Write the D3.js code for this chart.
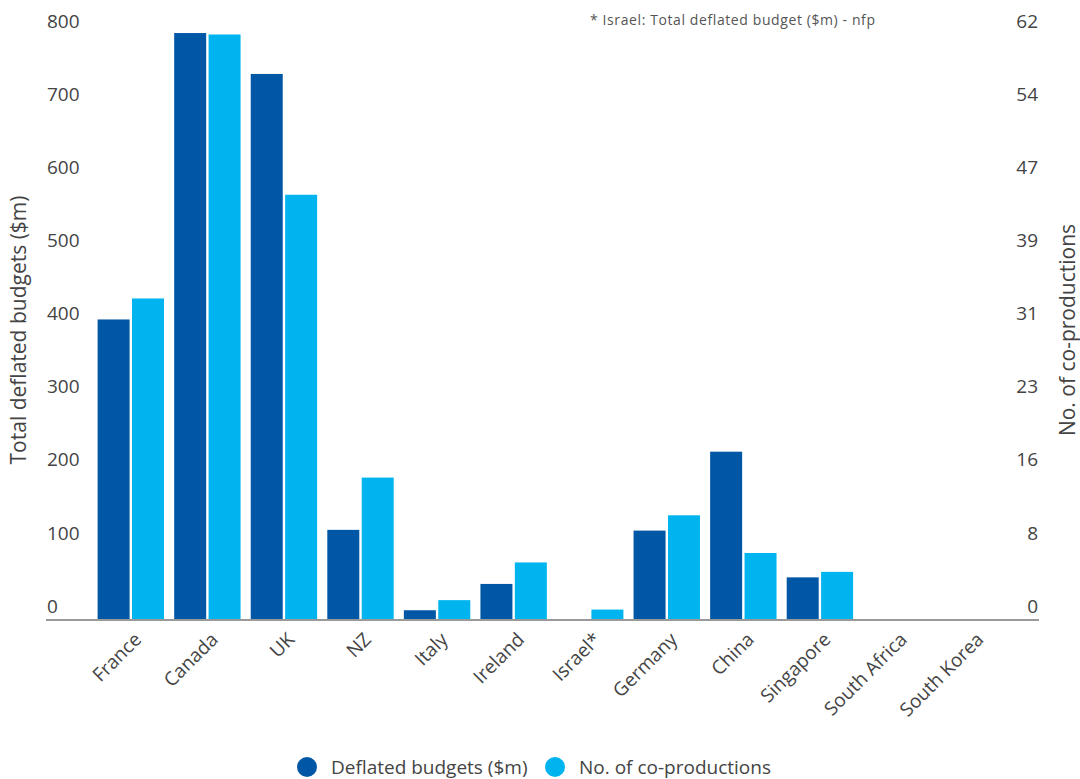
<!DOCTYPE html>
<html>
<head>
<meta charset="utf-8">
<script src="https://cdn.jsdelivr.net/npm/d3@7"></script>
<style>
  body { margin: 0; background: #fff; }
  svg, svg text { font-family: "Open Sans", sans-serif; }
  .tick text { fill: #444; }
</style>
</head>
<body>
<svg id="chart" width="1080" height="779"></svg>
<script>

// data
var countries = ["France", "Canada", "UK", "NZ", "Italy", "Ireland", "Israel*", "Germany", "China", "Singapore", "South Africa", "South Korea"];
var budgets = [410, 802, 746, 122, 12, 48, null, 121, 229, 57, 0, 0];   // $m, Israel not for publication
var coprods = [34, 62, 45, 15, 2, 6, 1, 11, 7, 5, 0, 0];

var leftTicks = [0, 100, 200, 300, 400, 500, 600, 700, 800];
var rightTicks = [0, 7.75, 15.5, 23.25, 31, 38.75, 46.5, 54.25, 62];
var rightTickLabels = ["0", "8", "16", "23", "31", "39", "47", "54", "62"];

var seriesNames = ["Deflated budgets ($m)", "No. of co-productions"];
var colors = ["#0057a6", "#00b5ef"];

var svg = d3.select("#chart");

var baseY = 619, topY = 34.5;

var x0 = d3.scaleBand()
  .domain(countries)
  .range([92.6, 1011.4]);

var x1 = d3.scaleBand()
  .domain([0, 1])
  .range([5, 71.4])
  .paddingInner(0.07);

var yL = d3.scaleLinear().domain([0, 800]).range([baseY, topY]);
var yR = d3.scaleLinear().domain([0, 62]).range([baseY, topY]);

// bars
var groups = svg.append("g").selectAll("g")
  .data(countries)
  .enter().append("g")
  .attr("transform", function(d) { return "translate(" + x0(d) + ",0)"; });

groups.append("rect")
  .filter(function(d, i) { return budgets[i] != null && budgets[i] > 0; })
  .attr("x", x1(0))
  .attr("width", x1.bandwidth())
  .attr("y", function(d) { return yL(budgets[countries.indexOf(d)]); })
  .attr("height", function(d) { return baseY - yL(budgets[countries.indexOf(d)]); })
  .attr("fill", colors[0]);

groups.append("rect")
  .filter(function(d, i) { return coprods[i] > 0; })
  .attr("x", x1(1))
  .attr("width", x1.bandwidth())
  .attr("y", function(d) { return yR(coprods[countries.indexOf(d)]); })
  .attr("height", function(d) { return baseY - yR(coprods[countries.indexOf(d)]); })
  .attr("fill", colors[1]);

// baseline
svg.append("line")
  .attr("x1", 46).attr("x2", 1039)
  .attr("y1", baseY + 1).attr("y2", baseY + 1)
  .attr("stroke", "#999")
  .attr("stroke-width", 2);

// left axis (labels sit above the tick)
var gL = svg.append("g")
  .attr("transform", "translate(47,0)")
  .call(d3.axisRight(yL).tickValues(leftTicks).tickSize(0).tickPadding(0));
gL.attr("font-family", null).attr("font-size", null);
gL.select(".domain").remove();
gL.selectAll("text").attr("y", -13).style("font-size", "19px").attr("text-anchor", "start");

// right axis
var gR = svg.append("g")
  .attr("transform", "translate(1038,0)")
  .call(d3.axisLeft(yR).tickValues(rightTicks).tickSize(0).tickPadding(0)
    .tickFormat(function(d, i) { return rightTickLabels[i]; }));
gR.attr("font-family", null).attr("font-size", null);
gR.select(".domain").remove();
gR.selectAll("text").attr("y", -13).style("font-size", "19px");

// x axis
var gX = svg.append("g")
  .attr("transform", "translate(0," + baseY + ")")
  .call(d3.axisBottom(x0).tickSize(0));
gX.attr("font-family", null).attr("font-size", null);
gX.select(".domain").remove();
gX.selectAll("text")
  .attr("x", 0).attr("y", 0).attr("dy", "0.35em")
  .attr("text-anchor", "end")
  .attr("transform", "translate(7,17) rotate(-45)")
  .style("font-size", "19px");

// axis titles
svg.append("text")
  .attr("transform", "translate(26,330) rotate(-90)")
  .attr("text-anchor", "middle")
  .attr("fill", "#444")
  .style("font-size", "21px")
  .text("Total deflated budgets ($m)");

svg.append("text")
  .attr("transform", "translate(1075,330) rotate(-90)")
  .attr("text-anchor", "middle")
  .attr("fill", "#444")
  .style("font-size", "21px")
  .text("No. of co-productions");

// footnote
svg.append("text")
  .attr("x", 590).attr("y", 25)
  .attr("fill", "#555")
  .style("font-size", "14px")
  .style("letter-spacing", "0.6px")
  .text("* Israel: Total deflated budget ($m) - nfp");

// legend
var legendX = [307, 555];
var legend = svg.append("g").selectAll("g")
  .data(seriesNames)
  .enter().append("g")
  .attr("transform", function(d, i) { return "translate(" + legendX[i] + ",767)"; });

legend.append("circle")
  .attr("r", 10)
  .attr("fill", function(d, i) { return colors[i]; });

legend.append("text")
  .attr("x", 24)
  .attr("dy", "0.35em")
  .attr("fill", "#444")
  .style("font-size", "19px")
  .text(function(d) { return d; });

</script>
</body>
</html>
